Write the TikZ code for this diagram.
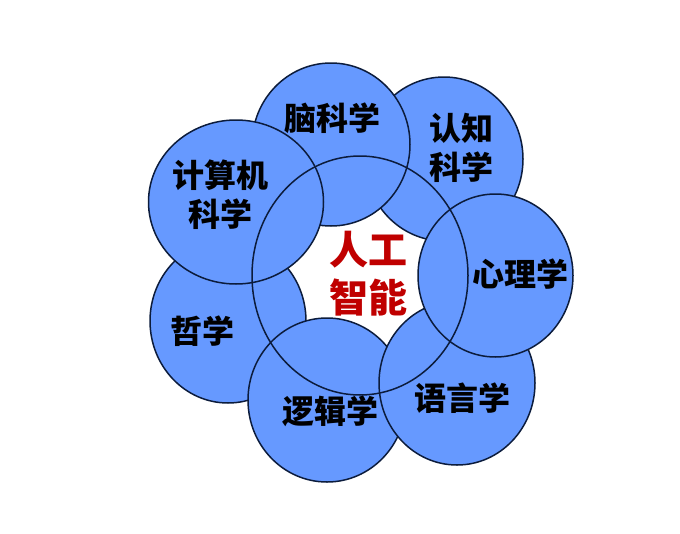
\documentclass[tikz,border=0pt]{standalone}
\usepackage{fontspec}
\newfontfamily\cjk{Noto Sans CJK SC}
\usetikzlibrary{shapes.geometric}
\definecolor{cblue}{HTML}{6699FF}
\definecolor{cline}{HTML}{0C1C3C}
\definecolor{cred}{HTML}{C00000}
\begin{document}
\begin{tikzpicture}[x=1pt,y=-1pt,
  disc/.style={ellipse, draw=cline, line width=1.5pt, fill=cblue, inner sep=0pt, outer sep=0pt},
  ring/.style={ellipse, draw=cline, line width=1.5pt, inner sep=0pt, outer sep=0pt},
  lbl/.style={font=\cjk\bfseries\fontsize{32}{39}\selectfont, text=black, align=center, inner sep=0pt},
  core/.style={font=\cjk\bfseries\fontsize{39}{48}\selectfont, text=cred, align=center, inner sep=0pt}]
\useasboundingbox (0,0) rectangle (680,533);
\fill[white] (0,0) rectangle (680,533);
\node[disc, minimum width=156pt, minimum height=164pt] (zhe) at (228,321) {};
\node[disc, minimum width=158pt, minimum height=164pt] (ren) at (444,159) {};
\node[disc, minimum width=158pt, minimum height=163pt] (nao) at (331,144.5) {};
\node[disc, minimum width=175pt, minimum height=164pt] (ji) at (236,202) {};
\node[disc, minimum width=158pt, minimum height=164pt] (luo) at (327,400) {};
\node[disc, minimum width=156pt, minimum height=164pt] (yu) at (457,383) {};
\node[disc, minimum width=155pt, minimum height=163pt] (xin) at (495.5,275.5) {};
\node[ring, minimum width=216pt, minimum height=239pt] (ai) at (360,275.5) {};
\node[lbl] (tnao) at (332,118) {脑科学};
\node[lbl] (tren) at (461,148) {认知\\科学};
\node[lbl] (tji) at (220,195) {计算机\\科学};
\node[lbl] (txin) at (520,274) {心理学};
\node[lbl] (tzhe) at (202,331) {哲学};
\node[lbl] (tluo) at (330,411) {逻辑学};
\node[lbl] (tyu) at (462,398) {语言学};
\node[core] (tai) at (368,274) {人工\\智能};
\end{tikzpicture}
\end{document}
